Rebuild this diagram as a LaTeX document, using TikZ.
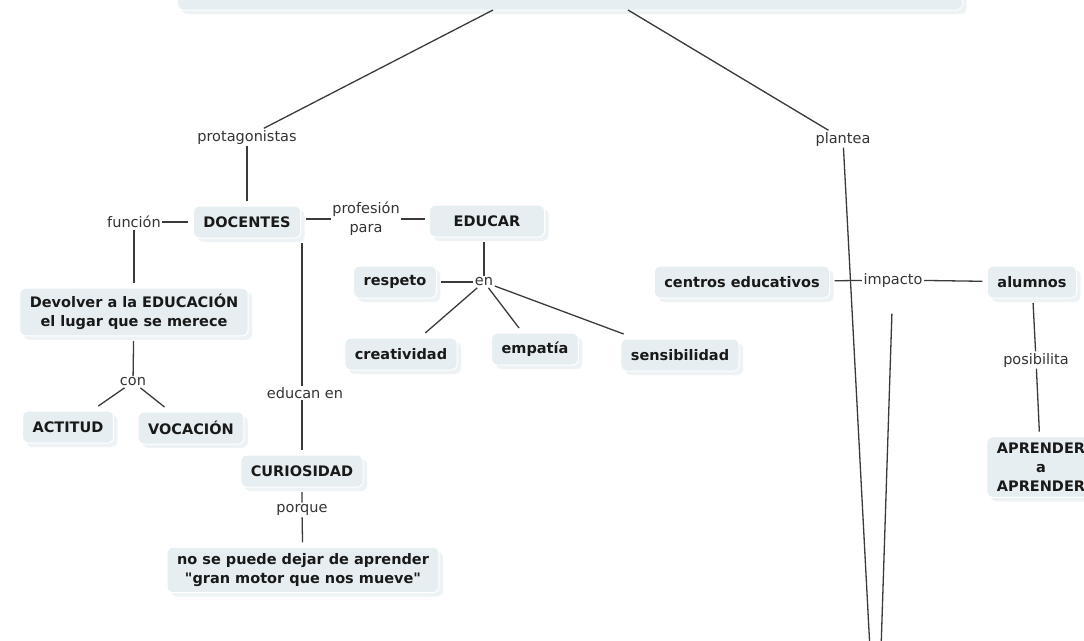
\documentclass[tikz,border=0pt]{standalone}
\usepackage{fontspec}
\setmainfont{DejaVu Sans}
\usetikzlibrary{shadows,positioning}

\definecolor{boxfill}{HTML}{E6EEF1}
\definecolor{boxshade}{HTML}{EDF3F5}
\definecolor{linkgray}{HTML}{3A3A3A}

\begin{document}
\begin{tikzpicture}[x=1pt,y=-1pt,
		concept/.style={fill=boxfill,draw=white,line width=1pt,rounded corners=6pt,inner xsep=10pt,inner ysep=6pt,
			minimum height=32pt,align=center,outer sep=5pt,text=black!90,
			font=\fontsize{14.5}{19}\selectfont\bfseries,
			drop shadow={shadow xshift=4pt,shadow yshift=-4pt,fill=boxshade,opacity=1}},
		phrase/.style={inner sep=1.5pt,align=center,text=black!80,font=\fontsize{14.5}{19}\selectfont},
		link/.style={draw=linkgray,line width=1.3pt}]
									\useasboundingbox (0,0) rectangle (1084,640);
									\clip (0,0) rectangle (1084,640);
									
									% top of the map (cut off)
									\node[concept,minimum width=785pt,minimum height=60pt,outer sep=0pt](top) at (570,-20){};
									
									\node[phrase](protag) at (247,137){protagonistas};
									\node[phrase](plantea) at (843,139){plantea};
									\node[concept](docentes) at (247,222){DOCENTES};
									\node[phrase](funcion) at (134,222){función};
									\node[concept](devolver) at (134,312){Devolver a la EDUCACIÓN\\el lugar que se merece};
									\node[phrase](con) at (133,382){con};
									\node[concept](actitud) at (68,427){ACTITUD};
									\node[concept](vocacion) at (191,428){VOCACIÓN};
									\node[phrase](educan) at (305,393){educan en};
									\node[concept](curiosidad) at (302,471){CURIOSIDAD};
									\node[phrase](porque) at (302,510){porque};
									\node[concept](nosepuede) at (303,570){no se puede dejar de aprender\\\textquotedbl gran motor que nos mueve\textquotedbl};
									\node[phrase](profpara) at (366,219){profesión\\para};
									\node[concept,minimum width=115pt](educar) at (487,221){EDUCAR};
									\node[phrase](en) at (484,282){en};
									\node[concept](respeto) at (395,282){respeto};
									\foreach \name/\txt/\cx/\cy in {creatividad/creatividad/401/354,empatia/empatía/535/349,sensibilidad/sensibilidad/680/355}
										\node[concept](\name) at (\cx,\cy){\txt};
									\node[concept](centros) at (742,282){centros educativos};
									\node[phrase](impacto) at (893,280){impacto};
									\node[concept](alumnos) at (1032,282){alumnos};
									\node[phrase](posibilita) at (1036,360){posibilita};
									\node[concept](aprender) at (1041,467){APRENDER\\a\\APRENDER};
									\coordinate (down1) at (870,650);
									\coordinate (down2) at (881,650);
									
									\draw[link] ([xshift=-77pt]top.south) -- (protag);
									\draw[link] ([xshift=58pt]top.south) -- (plantea);
									\draw[link] (protag) -- (docentes);
									\draw[link] (funcion) -- (docentes);
									\draw[link] (funcion) -- (devolver);
									\draw[link] (devolver) -- (con);
									\draw[link] (con) -- (actitud);
									\draw[link] (con) -- (vocacion);
									\draw[link] (educan.north -| curiosidad) -- (curiosidad.north |- docentes.south);
									\draw[link] (educan.south -| curiosidad) -- (curiosidad);
									\draw[link] (curiosidad) -- (porque) -- (nosepuede);
									\draw[link] (docentes.east |- profpara) -- (profpara.west);
									\draw[link] (profpara.east) -- (educar.west |- profpara);
									\draw[link] (educar.south -| en) -- (en);
									\draw[link] (respeto) -- (en);
									\foreach \kid in {creatividad,empatia,sensibilidad}
										\draw[link] (en) -- (\kid);
									\draw[link] (plantea) -- (down1);
									\draw[link] (centros) -- (impacto) -- (alumnos);
									\draw[link,shorten <=25pt] (impacto) -- (down2);
									\draw[link] (alumnos) -- (posibilita) -- (aprender);
\end{tikzpicture}
\end{document}
